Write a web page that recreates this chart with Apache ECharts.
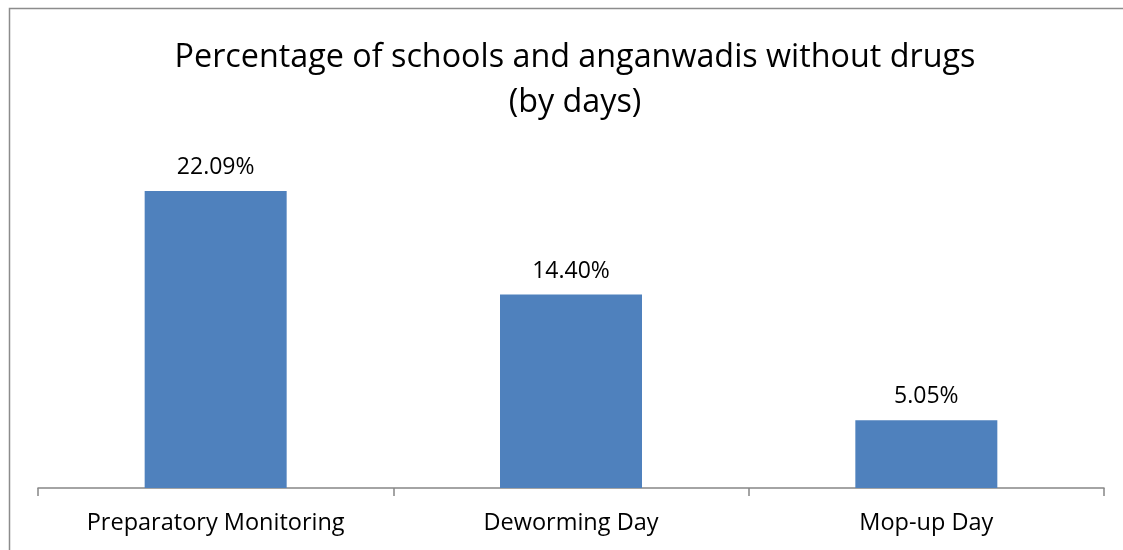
<!DOCTYPE html>
<html><head><meta charset="utf-8">
<script src="https://cdn.jsdelivr.net/npm/echarts@6/dist/echarts.min.js"></script>
<style>html,body{margin:0;padding:0;background:#fff}#c{width:1123px;height:550px}</style>
</head><body><div id="c"></div>
<script>
var categories = ["Preparatory Monitoring", "Deworming Day", "Mop-up Day"];
var values = [22.09, 14.40, 5.05];
var titleText = "Percentage of schools and anganwadis without drugs\n(by days)";

var chart = echarts.init(document.getElementById('c'));
chart.setOption({
  animation: false,
  backgroundColor: '#fff',
  graphic: [{
    type: 'rect', shape: {x: 9.5, y: 8.5, width: 1200, height: 700},
    style: {fill: 'none', stroke: '#8c8c8c', lineWidth: 1.5}, silent: true
  }],
  title: {
    text: titleText, left: 570, textAlign: 'center', top: 30,
    textStyle: {fontFamily: 'Open Sans', fontSize: 32.3, fontWeight: 'normal', color: '#000', lineHeight: 45.5}
  },
  grid: {left: 38, right: 19, top: 152, bottom: 62},
  xAxis: {
    type: 'category', data: categories,
    axisLine: {show: true, lineStyle: {color: '#868686', width: 1.5}},
    axisTick: {show: true, alignWithLabel: false, length: 8, lineStyle: {color: '#868686', width: 1.5}},
    axisLabel: {fontFamily: 'Open Sans', fontSize: 23.5, color: '#000', margin: 23}
  },
  yAxis: {type: 'value', min: 0, max: 25, show: false, splitLine: {show: false}},
  series: [{
    type: 'bar', data: values, barWidth: 142,
    itemStyle: {color: '#4F81BD'},
    label: {
      show: true, position: 'top', distance: 12,
      fontFamily: 'Open Sans', fontSize: 23, color: '#000',
      formatter: function (p) { return p.value.toFixed(2) + '%'; }
    }
  }]
});
</script></body></html>
